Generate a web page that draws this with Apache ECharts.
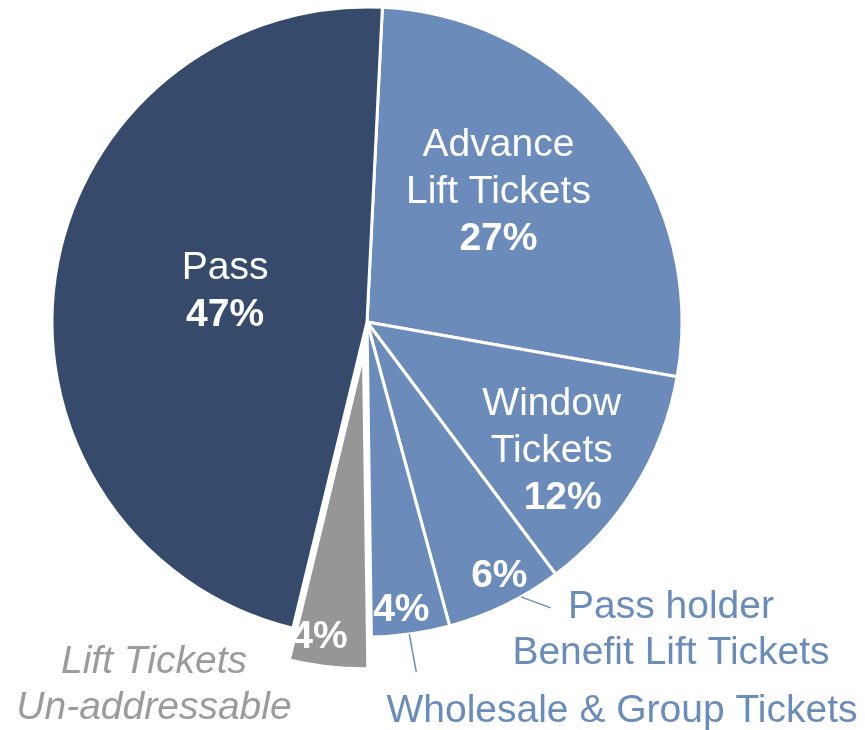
<!DOCTYPE html>
<html>
<head>
<meta charset="utf-8">
<title>Lift ticket revenue mix</title>
<script src="https://cdn.jsdelivr.net/npm/echarts@6/dist/echarts.min.js"></script>
<style>
  html, body { margin: 0; padding: 0; background: #ffffff; }
  #chart { width: 865px; height: 730px; }
</style>
</head>
<body>
<div id="chart"></div>
<script>
// ---- data ----
const categories = [
  'Advance Lift Tickets',
  'Window Tickets',
  'Pass holder Benefit Lift Tickets',
  'Wholesale & Group Tickets',
  'Lift Tickets Un-addressable',
  'Pass'
];
const shares = [27, 12, 6, 4, 4, 47];
const insideNames = ['Advance\nLift Tickets', 'Window\nTickets', '', '', '', 'Pass'];
const calloutNames = ['', '', 'Pass holder\nBenefit Lift Tickets', 'Wholesale & Group Tickets', 'Lift Tickets\nUn-addressable', ''];
const explodedIndex = 4;

// ---- styling / layout ----
const sliceColors = ['#6b8cba', '#6b8cba', '#6b8cba', '#6b8cba', '#969696', '#364b6c'];
const calloutColors = ['', '', '#6a8cbb', '#6a8cbb', '#9b9b9b', ''];
const FONT = "'Liberation Sans', Arial, Helvetica, sans-serif";
const FONT_SIZE = 39;
const PIE_CENTER = [367, 322];
const PIE_RADIUS = 315;
const START_DEG = 2.8;         // first slice edge, clockwise from 12 o'clock
const EXPLODE_OFFSET = 32;

// shifts applied to the inside labels (px)
const insideNudge = [[6, -30], [48, 45], [62, 110], [12, 129], [-26, 124], [17, -7]];
// callout label centres and leader lines (anchor fraction along the slice arc, leader vector)
const calloutPos = [null, null, [671, 630], [622, 711], [154, 685.5], null];
const calloutLeader = [null, null, { frac: 0.35, vec: [30, 11] }, { frac: 0.52, vec: [7, 38] }, null, null];

const total = shares.reduce((a, b) => a + b, 0);
const spans = (() => {
  let a = START_DEG;
  return shares.map(v => { const s = a; a += v / total * 360; return [s, a]; });
})();
function arcPoint(deg, r) {
  const t = deg * Math.PI / 180;
  return [PIE_CENTER[0] + r * Math.sin(t), PIE_CENTER[1] - r * Math.cos(t)];
}

const chart = echarts.init(document.getElementById('chart'), null, { renderer: 'canvas' });

const insideRich = {
  n: { fontFamily: FONT, fontSize: FONT_SIZE, color: '#ffffff', lineHeight: 47 },
  p: { fontFamily: FONT, fontSize: FONT_SIZE, fontWeight: 'bold', color: '#ffffff', lineHeight: 47 },
  q: { fontFamily: FONT, fontSize: FONT_SIZE, fontWeight: 'bold', color: '#ffffff', lineHeight: 47, padding: [0, 0, 0, 22] }
};

chart.setOption({
  animation: false,
  backgroundColor: '#ffffff',
  series: [
    {
      type: 'pie',
      center: PIE_CENTER,
      radius: PIE_RADIUS,
      startAngle: 90 - START_DEG,
      clockwise: true,
      selectedMode: 'single',
      selectedOffset: EXPLODE_OFFSET,
      avoidLabelOverlap: false,
      emphasis: { disabled: true },
      itemStyle: { borderColor: '#ffffff', borderWidth: 3 },
      label: {
        show: true,
        position: 'inside',
        rich: insideRich,
        formatter: function (params) {
          const i = params.dataIndex;
          const pct = '{' + (i === 1 ? 'q' : 'p') + '|' + params.value + '%}';
          const name = insideNames[i];
          if (!name) return pct;
          return name.split('\n').map(l => '{n|' + l + '}').join('\n') + '\n' + pct;
        }
      },
      labelLine: { show: false },
      labelLayout: function (params) {
        const d = insideNudge[params.dataIndex];
        return { dx: d[0], dy: d[1] };
      },
      data: categories.map((name, i) => ({
        name: name,
        value: shares[i],
        selected: i === explodedIndex,
        itemStyle: { color: sliceColors[i] }
      }))
    },
    {
      // transparent twin of the pie that carries the outside callouts
      type: 'pie',
      center: PIE_CENTER,
      radius: PIE_RADIUS,
      startAngle: 90 - START_DEG,
      clockwise: true,
      silent: true,
      selectedMode: false,
      avoidLabelOverlap: false,
      emphasis: { disabled: true },
      z: 3,
      itemStyle: { color: 'rgba(0,0,0,0)', borderWidth: 0 },
      label: {
        position: 'outside',
        fontFamily: FONT,
        fontSize: FONT_SIZE,
        lineHeight: 46,
        align: 'center',
        formatter: function (params) { return calloutNames[params.dataIndex]; }
      },
      labelLine: { lineStyle: { color: '#6b8cba', width: 1.5 } },
      labelLayout: function (params) {
        const i = params.dataIndex;
        const p = calloutPos[i];
        if (!p) return {};
        const out = { x: p[0], y: p[1], align: 'center', verticalAlign: 'middle' };
        const ld = calloutLeader[i];
        if (ld) {
          const sp = spans[i];
          const s = arcPoint(sp[0] + (sp[1] - sp[0]) * ld.frac, PIE_RADIUS);
          const e = [s[0] + ld.vec[0], s[1] + ld.vec[1]];
          out.labelLinePoints = [s, [(s[0] + e[0]) / 2, (s[1] + e[1]) / 2], e];
        }
        return out;
      },
      data: categories.map((name, i) => ({
        name: name,
        value: shares[i],
        label: {
          show: !!calloutNames[i],
          color: calloutColors[i] || '#6a8cbb',
          fontStyle: i === explodedIndex ? 'italic' : 'normal'
        },
        labelLine: { show: !!calloutLeader[i] }
      }))
    }
  ]
});
</script>
</body>
</html>
